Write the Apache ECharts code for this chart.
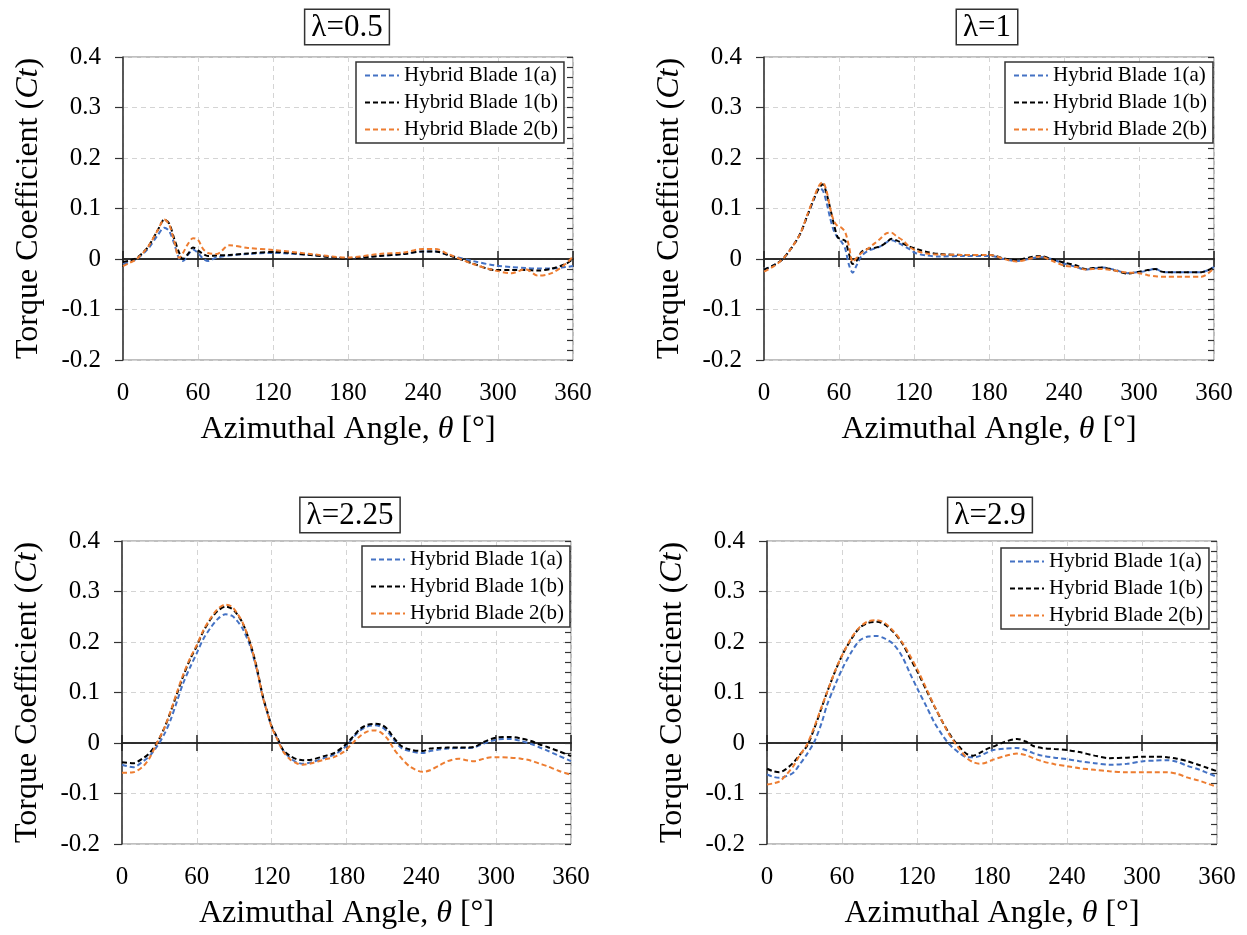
<!DOCTYPE html>
<html><head><meta charset="utf-8">
<script src="https://cdn.jsdelivr.net/npm/echarts@6/dist/echarts.min.js"></script>
<style>html,body{margin:0;padding:0;background:#fff}#c{width:1247px;height:935px}</style>
</head><body><div id="c"></div>
<script>
// ---------- data ----------
const seriesNames = ['Hybrid Blade 1(a)', 'Hybrid Blade 1(b)', 'Hybrid Blade 2(b)'];
const panelTitles = ['λ=0.5', 'λ=1', 'λ=2.25', 'λ=2.9'];
const xTickValues = [0, 60, 120, 180, 240, 300, 360];
const yTickValues = [-0.2, -0.1, 0, 0.1, 0.2, 0.3, 0.4];

// λ = 0.5
const angle05 = [0,5,11,20,28,33,37,41,45,48,52,56,60,64,68,75,85,100,120,150,180,205,225,240,250,260,280,298,311,322,332,343,354,360];
const blade1a_05 = [-0.010,-0.006,0.000,0.020,0.048,0.062,0.055,0.030,0.000,-0.004,0.008,0.019,0.012,0.001,-0.004,0.003,0.007,0.010,0.012,0.008,0.002,0.006,0.010,0.015,0.015,0.008,-0.004,-0.013,-0.016,-0.018,-0.019,-0.019,-0.016,-0.014];
const blade1b_05 = [-0.006,-0.003,0.002,0.024,0.058,0.078,0.070,0.040,0.012,0.000,0.010,0.023,0.017,0.010,0.006,0.007,0.008,0.011,0.014,0.008,0.001,0.006,0.010,0.015,0.015,0.008,-0.009,-0.022,-0.022,-0.022,-0.023,-0.019,-0.010,0.000];
const blade2b_05 = [-0.014,-0.008,0.000,0.024,0.058,0.078,0.068,0.035,0.002,0.012,0.030,0.041,0.038,0.020,0.012,0.010,0.027,0.022,0.018,0.010,0.003,0.010,0.013,0.020,0.020,0.010,-0.010,-0.023,-0.028,-0.020,-0.033,-0.028,-0.010,0.005];

// λ = 1
const angle1 = [0,8,15,22,29,35,40,44,47,50,53,56,59,62,65,68,71,74,78,83,88,93,98,102,106,111,116,122,130,140,160,181,192,202,212,221,230,240,250,257,263,271,280,291,300,307,313,318,322,335,350,360];
const blade1a_1 = [-0.021,-0.012,0.000,0.022,0.050,0.088,0.118,0.140,0.136,0.112,0.080,0.055,0.042,0.034,0.020,-0.012,-0.027,-0.013,0.006,0.016,0.020,0.025,0.033,0.037,0.034,0.027,0.020,0.011,0.007,0.005,0.006,0.006,0.000,-0.004,0.000,0.004,0.000,-0.009,-0.016,-0.021,-0.019,-0.017,-0.021,-0.028,-0.026,-0.023,-0.019,-0.025,-0.026,-0.026,-0.026,-0.016];
const blade1b_1 = [-0.021,-0.012,0.000,0.022,0.050,0.088,0.120,0.140,0.148,0.130,0.100,0.068,0.043,0.039,0.036,0.010,-0.010,-0.004,0.014,0.020,0.022,0.025,0.033,0.040,0.037,0.031,0.025,0.020,0.014,0.010,0.008,0.008,0.001,-0.002,0.003,0.006,0.000,-0.007,-0.013,-0.020,-0.018,-0.017,-0.022,-0.029,-0.025,-0.022,-0.020,-0.025,-0.026,-0.026,-0.026,-0.016];
const blade2b_1 = [-0.025,-0.014,0.000,0.022,0.050,0.090,0.122,0.145,0.152,0.135,0.100,0.075,0.065,0.062,0.053,0.025,-0.006,0.002,0.012,0.020,0.030,0.040,0.051,0.052,0.045,0.037,0.025,0.016,0.011,0.009,0.008,0.008,0.000,-0.005,0.000,0.005,-0.003,-0.013,-0.016,-0.021,-0.020,-0.020,-0.023,-0.027,-0.028,-0.032,-0.034,-0.035,-0.035,-0.035,-0.035,-0.018];

// λ = 2.25
const angle225 = [0,9,17,22,28,34,39,44,49,55,60,65,71,77,83,88,92,97,103,108,113,117,120,125,129,135,140,145,152,162,170,178,185,191,197,203,208,213,218,224,231,241,247,254,261,270,276,282,290,296,301,311,320,328,335,341,350,360];
const blade1a_225 = [-0.043,-0.048,-0.036,-0.026,-0.007,0.018,0.046,0.082,0.118,0.152,0.178,0.205,0.228,0.246,0.255,0.252,0.243,0.225,0.190,0.145,0.090,0.056,0.032,0.007,-0.014,-0.030,-0.038,-0.041,-0.038,-0.030,-0.023,-0.010,0.010,0.025,0.033,0.035,0.032,0.022,0.006,-0.010,-0.016,-0.020,-0.016,-0.013,-0.011,-0.010,-0.010,-0.009,-0.001,0.004,0.007,0.008,0.004,-0.002,-0.009,-0.015,-0.025,-0.036];
const blade1b_225 = [-0.038,-0.040,-0.030,-0.020,0.000,0.030,0.062,0.097,0.132,0.168,0.192,0.220,0.245,0.262,0.270,0.266,0.256,0.236,0.196,0.150,0.092,0.058,0.033,0.008,-0.013,-0.026,-0.032,-0.034,-0.033,-0.026,-0.020,-0.006,0.012,0.028,0.036,0.038,0.036,0.027,0.010,-0.006,-0.013,-0.016,-0.011,-0.010,-0.009,-0.009,-0.009,-0.008,0.002,0.008,0.011,0.012,0.009,0.004,-0.003,-0.008,-0.016,-0.026];
const blade2b_225 = [-0.059,-0.058,-0.046,-0.030,0.000,0.030,0.063,0.100,0.135,0.170,0.194,0.222,0.247,0.266,0.274,0.270,0.258,0.237,0.196,0.148,0.090,0.056,0.031,0.005,-0.016,-0.033,-0.040,-0.043,-0.040,-0.033,-0.028,-0.017,0.000,0.014,0.023,0.025,0.020,0.008,-0.012,-0.030,-0.047,-0.057,-0.054,-0.045,-0.036,-0.031,-0.034,-0.036,-0.031,-0.028,-0.028,-0.029,-0.031,-0.035,-0.041,-0.046,-0.055,-0.063];

// λ = 2.9
const angle29 = [0,5,10,15,21,26,32,38,44,48,55,61,68,74,81,88,94,101,108,114,121,128,134,141,145,149,154,160,165,170,175,181,190,200,207,213,220,230,240,250,262,274,288,301,310,320,328,336,345,352,360];
const blade1a_29 = [-0.062,-0.067,-0.069,-0.066,-0.059,-0.043,-0.022,0.003,0.042,0.075,0.118,0.151,0.182,0.203,0.211,0.212,0.207,0.196,0.172,0.140,0.104,0.070,0.040,0.013,0.000,-0.010,-0.020,-0.028,-0.028,-0.026,-0.020,-0.014,-0.011,-0.010,-0.014,-0.020,-0.025,-0.029,-0.032,-0.036,-0.040,-0.043,-0.041,-0.036,-0.035,-0.034,-0.037,-0.045,-0.052,-0.059,-0.067];
const blade1b_29 = [-0.051,-0.056,-0.058,-0.052,-0.039,-0.024,-0.006,0.030,0.072,0.100,0.145,0.178,0.208,0.228,0.238,0.240,0.235,0.220,0.198,0.170,0.138,0.102,0.072,0.039,0.022,0.007,-0.008,-0.022,-0.025,-0.020,-0.013,-0.007,0.002,0.008,0.003,-0.006,-0.010,-0.012,-0.014,-0.018,-0.025,-0.030,-0.029,-0.027,-0.027,-0.028,-0.031,-0.036,-0.043,-0.049,-0.056];
const blade2b_29 = [-0.082,-0.080,-0.076,-0.064,-0.046,-0.025,-0.003,0.033,0.074,0.100,0.146,0.178,0.210,0.229,0.241,0.243,0.238,0.222,0.200,0.175,0.142,0.105,0.073,0.039,0.020,0.005,-0.012,-0.030,-0.038,-0.041,-0.039,-0.033,-0.026,-0.021,-0.024,-0.030,-0.036,-0.042,-0.046,-0.050,-0.053,-0.056,-0.058,-0.058,-0.058,-0.058,-0.061,-0.068,-0.074,-0.080,-0.087];

// ---------- chart ----------
const FONT = '"Liberation Serif","Times New Roman",Times,serif';
const colors = ['#4472C4', '#000000', '#ED7D31'];
const panelData = [
  {angle: angle05, vals: [blade1a_05, blade1b_05, blade2b_05]},
  {angle: angle1, vals: [blade1a_1, blade1b_1, blade2b_1]},
  {angle: angle225, vals: [blade1a_225, blade1b_225, blade2b_225]},
  {angle: angle29, vals: [blade1a_29, blade1b_29, blade2b_29]}
];
const layout = [
  {grid: {left: 123, top: 57, width: 450, height: 303}, legend: {left: 356, top: 62}, title: [347, 10]},
  {grid: {left: 764, top: 57, width: 450, height: 303}, legend: {left: 1005, top: 62}, title: [987, 10]},
  {grid: {left: 122, top: 541, width: 449, height: 303}, legend: {left: 362, top: 546}, title: [350, 498]},
  {grid: {left: 767, top: 541, width: 450, height: 303}, legend: {left: 1001, top: 548}, title: [990, 498]}
];

const xMin = xTickValues[0], xMax = xTickValues[xTickValues.length - 1];
const xInt = xTickValues[1] - xTickValues[0];
const yMin = yTickValues[0], yMax = yTickValues[yTickValues.length - 1];
const yInt = 0.1;

const option = {
  animation: false,
  backgroundColor: '#fff',
  grid: [], xAxis: [], yAxis: [], legend: [], series: [], graphic: []
};
const gridLine = {show: true, lineStyle: {color: '#d4d4d4', type: [5, 4], width: 1}};
const tickFont = {fontFamily: FONT, fontSize: 25, color: '#000'};
const nameFont = {fontFamily: FONT, fontSize: 32, color: '#000',
  rich: {i: {fontFamily: FONT, fontSize: 32, fontStyle: 'italic', color: '#000'}}};

layout.forEach((L, i) => {
  option.grid.push(Object.assign({show: true, borderColor: '#7f7f7f', borderWidth: 1}, L.grid));
  // main x axis (labels at bottom)
  option.xAxis.push({
    gridIndex: i, type: 'value', min: xMin, max: xMax, interval: xInt,
    axisLine: {show: false, onZero: false}, axisTick: {show: false},
    axisLabel: Object.assign({margin: 21}, tickFont),
    splitLine: gridLine,
    name: 'Azimuthal Angle, {i|θ} [°]', nameLocation: 'middle', nameGap: 54,
    nameTextStyle: nameFont
  });
  // zero line, ticks crossing (down + up)
  ['bottom', 'top'].forEach(pos => {
    option.xAxis.push({
      gridIndex: i, type: 'value', min: xMin, max: xMax, interval: xInt, position: pos,
      axisLine: {show: true, onZero: true, onZeroAxisIndex: 2 * i, lineStyle: {color: '#222', width: 1.5}},
      axisTick: {show: true, length: 8, lineStyle: {color: '#222', width: 1.5}},
      axisLabel: {show: false}, splitLine: {show: false}
    });
  });
  option.yAxis.push({
    gridIndex: i, type: 'value', min: yMin, max: yMax, interval: yInt,
    axisLine: {show: true, onZero: false, lineStyle: {color: '#333', width: 1.5}},
    axisTick: {show: true, length: 8, lineStyle: {color: '#333', width: 1.2}},
    axisLabel: Object.assign({margin: 22}, tickFont),
    splitLine: gridLine,
    name: 'Torque Coefficient ({i|Ct})', nameLocation: 'middle', nameGap: 78,
    nameTextStyle: nameFont
  });
  option.yAxis.push({
    gridIndex: i, type: 'value', min: yMin, max: yMax, interval: 0.02,
    axisLine: {show: false, onZero: false},
    axisTick: {show: true, inside: true, length: 6, lineStyle: {color: '#333', width: 1.2}},
    axisLabel: {show: false}, splitLine: {show: false}
  });
  option.legend.push({
    left: L.legend.left, top: L.legend.top, orient: 'vertical', data: seriesNames,
    itemWidth: 34, itemHeight: 10, itemGap: 6, padding: [3, 6, 3, 8],
    borderColor: '#333', borderWidth: 1.5, borderRadius: 0, backgroundColor: '#fff',
    itemStyle: {opacity: 0},
    lineStyle: {width: 2, type: [5, 3]},
    textStyle: {fontFamily: FONT, fontSize: 21, color: '#000'}, z: 10
  });
  option.graphic.push({
    type: 'text', x: L.title[0], y: L.title[1], z: 100,
    style: {
      text: panelTitles[i], font: '31px ' + FONT, fill: '#000',
      align: 'center', textAlign: 'center', verticalAlign: 'top', textVerticalAlign: 'top',
      backgroundColor: '#fff', borderColor: '#333', borderWidth: 1.5, padding: [2, 6, 1, 6]
    }
  });
  const P = panelData[i];
  seriesNames.forEach((nm, k) => {
    option.series.push({
      type: 'line', name: nm, xAxisIndex: 3 * i, yAxisIndex: 2 * i,
      data: P.angle.map((a, j) => [a, P.vals[k][j]]),
      symbol: 'none', smooth: 0.3,
      lineStyle: {color: colors[k], width: 2, type: [5, 3]},
      itemStyle: {color: colors[k]},
      emphasis: {disabled: true}, z: 3 + k
    });
  });
});

const chart = echarts.init(document.getElementById('c'), null, {renderer: 'canvas'});
chart.setOption(option);
</script>
</body></html>
